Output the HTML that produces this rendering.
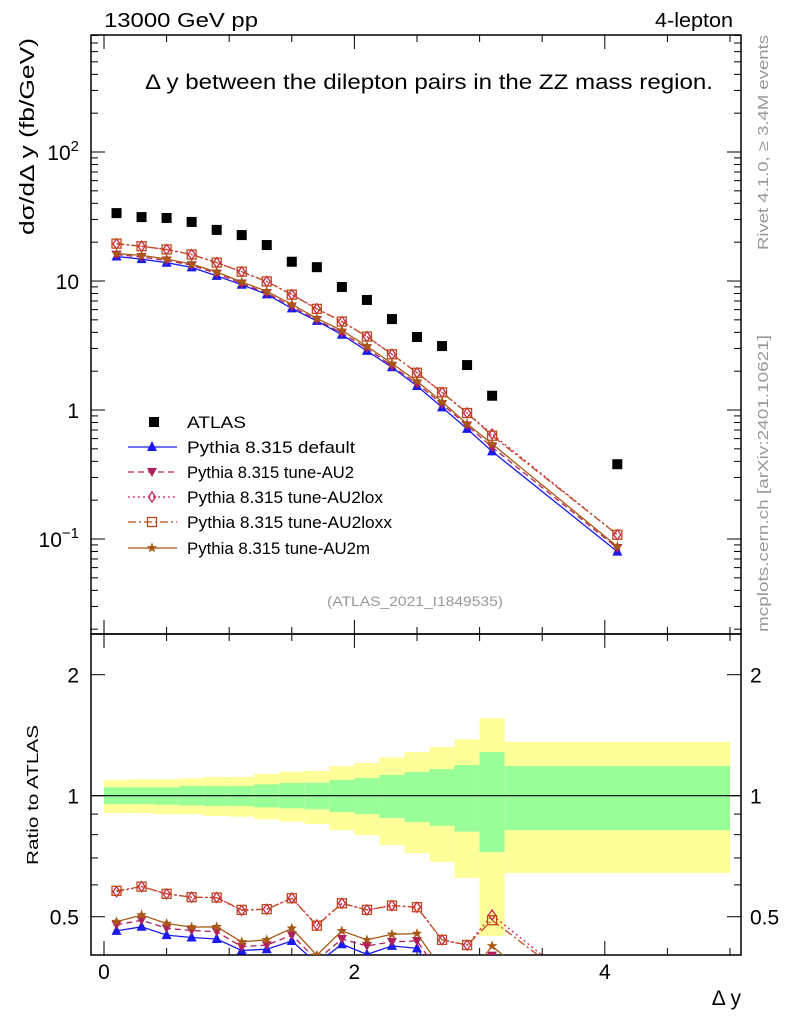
<!DOCTYPE html>
<html><head><meta charset="utf-8"><style>
body{margin:0;background:#fff;}
svg text{font-family:"Liberation Sans",sans-serif;}
</style></head><body>
<svg id="chart" width="786" height="1024" xmlns="http://www.w3.org/2000/svg">
<rect width="786" height="1024" fill="#fff"/>
<g id="bands"></g>
<g id="axes"></g>
<g id="series"></g>
<text x="104" y="27" font-size="20" textLength="154" lengthAdjust="spacingAndGlyphs">13000 GeV pp</text>
<text x="655" y="27" font-size="20" textLength="78" lengthAdjust="spacingAndGlyphs">4-lepton</text>
<text x="145" y="89" font-size="21" textLength="568" lengthAdjust="spacingAndGlyphs">Δ y between the dilepton pairs in the ZZ mass region.</text>
<text x="327" y="606" font-size="14" fill="#999" textLength="176" lengthAdjust="spacingAndGlyphs">(ATLAS_2021_I1849535)</text>
<text transform="translate(34,235) rotate(-90)" font-size="20" textLength="197" lengthAdjust="spacingAndGlyphs">dσ/dΔ y (fb/GeV)</text>
<text transform="translate(38,865) rotate(-90)" font-size="16" textLength="140" lengthAdjust="spacingAndGlyphs">Ratio to ATLAS</text>
<text x="741" y="1005" font-size="21" text-anchor="end">Δ y</text>
<text transform="translate(768,250) rotate(-90)" font-size="15" fill="#999" textLength="215" lengthAdjust="spacingAndGlyphs">Rivet 4.1.0, ≥ 3.4M events</text>
<text transform="translate(768,632) rotate(-90)" font-size="15" fill="#999" textLength="297" lengthAdjust="spacingAndGlyphs">mcplots.cern.ch [arXiv:2401.10621]</text>
<g id="legend"></g>
</svg>
<script>
const xCenters=[0.1,0.3,0.5,0.7,0.9,1.1,1.3,1.5,1.7,1.9,2.1,2.3,2.5,2.7,2.9,3.1,4.1];
const binLo=[0,0.2,0.4,0.6,0.8,1.0,1.2,1.4,1.6,1.8,2.0,2.2,2.4,2.6,2.8,3.0,3.2];
const binHi=[0.2,0.4,0.6,0.8,1.0,1.2,1.4,1.6,1.8,2.0,2.2,2.4,2.6,2.8,3.0,3.2,5.0];
const atlas=[33.6,31.3,30.8,28.7,24.9,22.7,19.0,14.1,12.8,8.98,7.13,5.07,3.68,3.13,2.23,1.29,0.38];
const ratioDefault=[0.461,0.472,0.450,0.444,0.440,0.412,0.415,0.435,0.383,0.427,0.403,0.423,0.417,0.335,0.32,0.37,0.21];
const ratioAU2=[0.477,0.490,0.468,0.462,0.459,0.421,0.425,0.450,0.390,0.440,0.423,0.433,0.435,0.355,0.34,0.40,0.224];
const ratioAU2lox=[0.577,0.594,0.570,0.559,0.558,0.518,0.522,0.556,0.477,0.540,0.520,0.533,0.528,0.438,0.425,0.505,0.284];
const ratioAU2loxx=[0.580,0.594,0.570,0.559,0.558,0.520,0.522,0.556,0.475,0.540,0.520,0.533,0.528,0.438,0.425,0.49,0.284];
const ratioAU2m=[0.486,0.505,0.481,0.471,0.472,0.433,0.438,0.468,0.401,0.461,0.438,0.452,0.454,0.37,0.35,0.423,0.23];
const yellowHi=[1.094,1.098,1.098,1.104,1.113,1.113,1.132,1.147,1.152,1.185,1.206,1.245,1.284,1.321,1.381,1.56,1.362];
const greenHi=[1.049,1.049,1.049,1.057,1.057,1.057,1.067,1.075,1.077,1.094,1.106,1.126,1.145,1.165,1.192,1.284,1.185];
const greenLo=[0.953,0.953,0.950,0.946,0.943,0.943,0.935,0.930,0.925,0.911,0.900,0.880,0.860,0.842,0.814,0.724,0.821];
const yellowLo=[0.906,0.906,0.900,0.899,0.890,0.887,0.873,0.862,0.850,0.821,0.798,0.754,0.720,0.685,0.625,0.448,0.642];
const xTicks=[0,2,4];
const NS='http://www.w3.org/2000/svg';
const L=91,R=741,T=35,MB=634,RB=955;
const X=v=>104+v*125.2;
const Y=v=>152-(Math.log10(v)-2)*129;
const YR=v=>795.7-Math.log10(v)*402;
function mk(tag,attrs,parent){const e=document.createElementNS(NS,tag);for(const k in attrs)e.setAttribute(k,attrs[k]);parent.appendChild(e);return e;}
const svg=document.getElementById('chart');
const defs=mk('defs',{},svg);
const c1=mk('clipPath',{id:'cm'},defs);mk('rect',{x:L,y:T,width:R-L,height:MB-T},c1);
const c2=mk('clipPath',{id:'cr'},defs);mk('rect',{x:L,y:MB,width:R-L,height:RB-MB},c2);
const bands=document.getElementById('bands');
for(let i=0;i<binLo.length;i++){
  let r=mk('rect',{x:X(binLo[i]),y:YR(yellowHi[i]),width:X(binHi[i])-X(binLo[i]),height:YR(yellowLo[i])-YR(yellowHi[i]),fill:'#ffff99'},bands);
  
  
  let g=mk('rect',{x:X(binLo[i]),y:YR(greenHi[i]),width:X(binHi[i])-X(binLo[i]),height:YR(greenLo[i])-YR(greenHi[i]),fill:'#99ff99'},bands);
  
  
}
const ax=document.getElementById('axes');
mk('rect',{x:L,y:T,width:R-L,height:MB-T,fill:'none',stroke:'#000','stroke-width':1.5},ax);
mk('rect',{x:L,y:MB,width:R-L,height:RB-MB,fill:'none',stroke:'#000','stroke-width':1.5},ax);
mk('line',{x1:L,x2:R,y1:YR(1),y2:YR(1),stroke:'#000','stroke-width':1.2},ax);
for(let d=-2;d<=2;d++){for(let m=1;m<10;m++){const v=m*Math.pow(10,d);const y=Y(v);if(y<T||y>MB)continue;const len=m==1?14:7;
 mk('line',{x1:L,x2:L+len,y1:y,y2:y,stroke:'#000'},ax);mk('line',{x1:R,x2:R-len,y1:y,y2:y,stroke:'#000'},ax);}}
const yl=[[100,'10','2'],[10,'10',''],[1,'1',''],[0.1,'10','−1']];
yl.forEach(t=>{const e=mk('text',{x:79,y:Y(t[0])+8,'font-size':21,'text-anchor':'end'},ax);e.textContent=t[1];
 
 
 if(t[2]){const s=mk('tspan',{dy:-9,'font-size':15},e);s.textContent=t[2];}});
[0.4,0.5,0.6,0.7,0.8,0.9,1,2].forEach(v=>{const y=YR(v);if(y<MB||y>RB)return;const len=(v==0.5||v==1||v==2)?14:7;
 mk('line',{x1:L,x2:L+len,y1:y,y2:y,stroke:'#000'},ax);mk('line',{x1:R,x2:R-len,y1:y,y2:y,stroke:'#000'},ax);});
[[2,'2'],[1,'1'],[0.5,'0.5']].forEach(t=>{const y=YR(t[0])+8;
 let a=mk('text',{x:79,y:y,'font-size':21,'text-anchor':'end'},ax);a.textContent=t[1];
 
 
 let b=mk('text',{x:750,y:y,'font-size':21},ax);b.textContent=t[1];
 
 });
for(let v=0;v<=5.01;v+=0.5){const x=X(v);const len=Math.abs(v-Math.round(v/2)*2)<1e-6?14:7;
 [[T,1],[MB,-1],[MB,1],[RB,-1]].forEach(p=>mk('line',{x1:x,x2:x,y1:p[0],y2:p[0]+p[1]*len,stroke:'#000'},ax));}
xTicks.forEach(v=>{const e=mk('text',{x:X(v),y:979,'font-size':21,'text-anchor':'middle'},ax);e.textContent=v;
 
 });
function marker(type,x,y,col,g,s){
 s=s||5;
 if(type=='sq')return mk('rect',{x:x-s,y:y-s,width:2*s,height:2*s,fill:'#000'},g);
 if(type=='tri')return mk('polygon',{points:`${x},${y-s-1} ${x-s},${y+s-1} ${x+s},${y+s-1}`,fill:col},g);
 if(type=='dtri')return mk('polygon',{points:`${x},${y+s} ${x-s},${y-s+1} ${x+s},${y-s+1}`,fill:col},g);
 if(type=='dia')return mk('polygon',{points:`${x},${y-s} ${x-3.5},${y} ${x},${y+s} ${x+3.5},${y}`,fill:'none',stroke:col,'stroke-width':1.3},g);
 if(type=='osq')return mk('rect',{x:x-4.5,y:y-4.5,width:9,height:9,fill:'none',stroke:col,'stroke-width':1.3},g);
 if(type=='star'){let p=[];for(let k=0;k<10;k++){const r=k%2?2.3:5.5,a=-Math.PI/2+k*Math.PI/5;p.push((x+r*Math.cos(a)).toFixed(1)+','+(y+r*Math.sin(a)).toFixed(1));}
  return mk('polygon',{points:p.join(' '),fill:col},g);}
}
const series=[
 {name:'Pythia 8.315 default',r:ratioDefault,col:'#1a1aee',dash:'',m:'tri',key:'default',w:168},
 {name:'Pythia 8.315 tune-AU2',r:ratioAU2,col:'#b0205f',dash:'6,4',m:'dtri',key:'au2',w:167},
 {name:'Pythia 8.315 tune-AU2lox',r:ratioAU2lox,col:'#c8204f',dash:'2,3',m:'dia',key:'au2lox',w:196},
 {name:'Pythia 8.315 tune-AU2loxx',r:ratioAU2loxx,col:'#c04818',dash:'8,3,2,3',m:'osq',key:'au2loxx',w:205},
 {name:'Pythia 8.315 tune-AU2m',r:ratioAU2m,col:'#a85a14',dash:'',m:'star',key:'au2m',w:183}];
const sg=document.getElementById('series');
const gm=mk('g',{'clip-path':'url(#cm)'},sg),gr=mk('g',{'clip-path':'url(#cr)'},sg);
series.forEach(s=>{
 const vals=s.r.map((r,i)=>r*atlas[i]);
 const pm=vals.map((v,i)=>X(xCenters[i]).toFixed(1)+','+Y(v).toFixed(1)).join(' ');
 const pr=s.r.map((v,i)=>X(xCenters[i]).toFixed(1)+','+YR(v).toFixed(1)).join(' ');
 const l1=mk('polyline',{points:pm,fill:'none',stroke:s.col,'stroke-width':1.3,'stroke-dasharray':s.dash},gm);
 
 
 const l2=mk('polyline',{points:pr,fill:'none',stroke:s.col,'stroke-width':1.3,'stroke-dasharray':s.dash},gr);
 
 
 vals.forEach((v,i)=>{const m=marker(s.m,X(xCenters[i]),Y(v),s.col,gm);
  
  
  const m2=marker(s.m,X(xCenters[i]),YR(s.r[i]),s.col,gr);
  
  });
});
atlas.forEach((v,i)=>{const m=marker('sq',X(xCenters[i]),Y(v),'#000',gm);
 
 });
const lg=document.getElementById('legend');
const ly=[422,447,472,497,522,548];
let e=marker('sq',154,ly[0],'#000',lg);


let t=mk('text',{x:187,y:ly[0]+6,'font-size':17,textLength:59,lengthAdjust:'spacingAndGlyphs'},lg);t.textContent='ATLAS';


series.forEach((s,i)=>{const y=ly[i+1];
 mk('line',{x1:128,x2:177,y1:y,y2:y,stroke:s.col,'stroke-width':1.3,'stroke-dasharray':s.dash},lg);
 marker(s.m,152,y,s.col,lg);
 const tt=mk('text',{x:187,y:y+6,'font-size':17,textLength:s.w,lengthAdjust:'spacingAndGlyphs'},lg);tt.textContent=s.name;
 
 });
</script>
</body></html>
